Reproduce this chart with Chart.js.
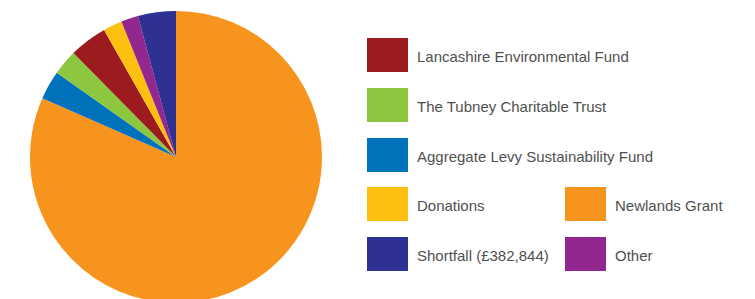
<!DOCTYPE html>
<html>
<head>
<meta charset="utf-8">
<script src="https://cdn.jsdelivr.net/npm/chart.js@4"></script>
<style>
    html, body { margin: 0; padding: 0; background: #ffffff; width: 755px; height: 299px; overflow: hidden; }
    #pieWrap { position: absolute; left: 30px; top: 11px; width: 292px; height: 292px; }
    .legend-item { position: absolute; height: 34px; display: flex; align-items: center;
        font-family: 'Liberation Sans', Arial, sans-serif; font-size: 15px; color: #505050; white-space: nowrap; }
    .legend-item span.txt { position: relative; top: 1px; }
    .legend-item span.box { display: inline-block; width: 41px; height: 34px; margin-right: 9px; }
</style>
</head>
<body>
<div id="pieWrap"><canvas id="fundingChart"></canvas></div>
<div id="legend"></div>
<script>
// Funding sources, in drawing order (clockwise from 12 o'clock)
var labels = ['Newlands Grant', 'Aggregate Levy Sustainability Fund', 'The Tubney Charitable Trust',
    'Lancashire Environmental Fund', 'Donations', 'Other', 'Shortfall (£382,844)'];
var shares = [81.6, 3.2, 2.8, 4.2, 2.1, 1.9, 4.2];
var colours = ['#f7941e', '#0072bc', '#8dc63f', '#9b1b1f', '#fdc010', '#92278f', '#2e3192'];

// Legend layout order as in the original artwork
var legendOrder = ['Lancashire Environmental Fund', 'The Tubney Charitable Trust',
    'Aggregate Levy Sustainability Fund', 'Donations', 'Newlands Grant', 'Shortfall (£382,844)', 'Other'];
var legendSlots = [[367, 38], [367, 88], [367, 138], [367, 187], [565, 187], [367, 237], [565, 237]];

var chart = new Chart(document.getElementById('fundingChart'), {
    type: 'pie',
    data: {
        labels: labels,
        datasets: [{
            data: shares,
            backgroundColor: colours,
            borderWidth: 0
        }]
    },
    options: {
        responsive: true,
        maintainAspectRatio: false,
        animation: false,
        layout: { padding: 0 },
        plugins: {
            legend: { display: false },
            tooltip: { enabled: false }
        }
    }
});

// html legend built from the chart data
var legendEl = document.getElementById('legend');
legendOrder.forEach(function(name, i) {
    var idx = chart.data.labels.indexOf(name);
    var item = document.createElement('div');
    item.className = 'legend-item';
    item.style.left = legendSlots[i][0] + 'px';
    item.style.top = legendSlots[i][1] + 'px';
    item.innerHTML = '<span class="box" style="background:' + chart.data.datasets[0].backgroundColor[idx] + '"></span>' +
        '<span class="txt">' + name + '</span>';
    legendEl.appendChild(item);
});
</script>
</body>
</html>
